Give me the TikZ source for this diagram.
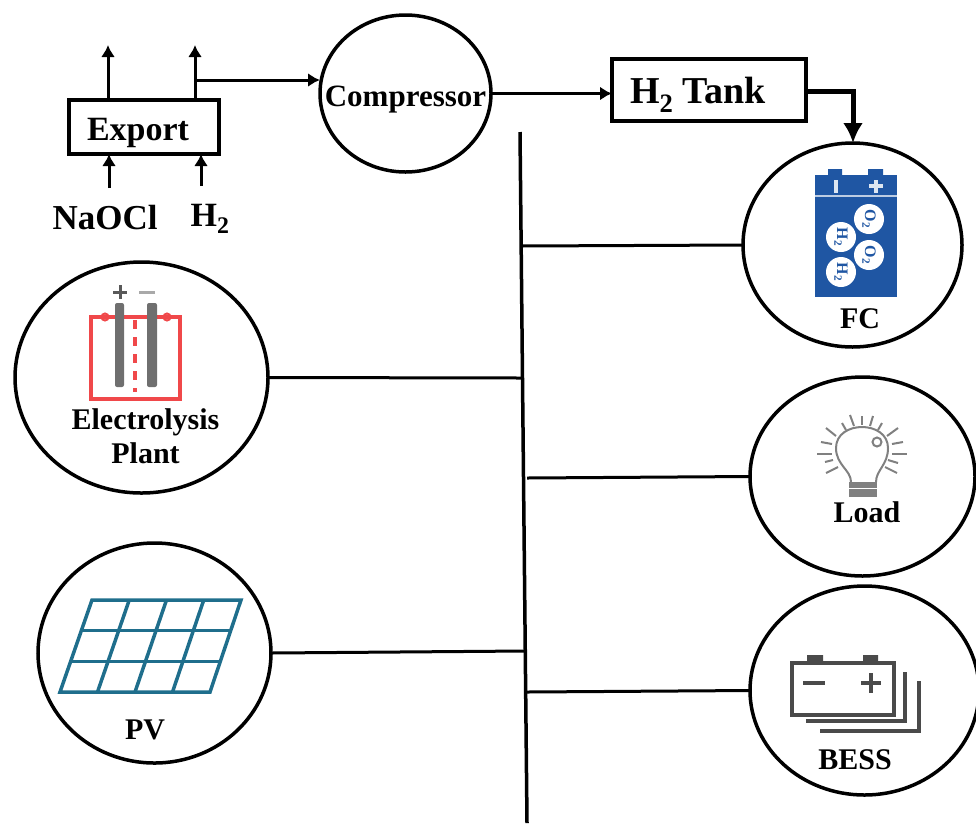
\documentclass[tikz,border=0pt]{standalone}
\usepackage{fontspec}
\setmainfont{Liberation Serif}
\usepackage{tikz}
\usetikzlibrary{shapes,arrows.meta,calc}
\definecolor{fcblue}{HTML}{1F56A3}
\definecolor{cellred}{HTML}{F0484A}
\definecolor{rodgray}{HTML}{6F6F6F}
\definecolor{pvblue}{HTML}{1F6E8C}
\definecolor{bessgray}{HTML}{4A4A4A}
\tikzset{
	unit/.style={draw,ellipse,line width=3.5pt,inner sep=0pt,outer sep=0pt},
	boxunit/.style={draw,rectangle,line width=3.5pt,inner sep=0pt,outer sep=0pt},
	lbl/.style={font=\fontsize{30}{34}\selectfont\bfseries,inner sep=0pt},
	wire/.style={line width=3pt},
	flow/.style={-{Latex[length=12pt,width=14pt]},line width=3pt}
}
\begin{document}
\begin{tikzpicture}[x=1pt,y=-1pt]
		\useasboundingbox (0,0) rectangle (976,823);
		
		% units
		\node[unit,minimum width=171pt,minimum height=157pt] (compressor) at (405.5,93.5) {};
		\node[unit,minimum width=219pt,minimum height=204pt] (fc) at (852.5,245) {};
		\node[unit,minimum width=253pt,minimum height=231pt] (plant) at (141.5,377.5) {};
		\node[unit,minimum width=225pt,minimum height=199pt] (load) at (862.5,476.5) {};
		\node[unit,minimum width=233pt,minimum height=220pt] (pv) at (154.5,653) {};
		\node[unit,minimum width=229pt,minimum height=209pt] (bess) at (864.5,690.5) {};
		
		% boxes
		\node[boxunit,minimum width=150pt,minimum height=54pt] (export) at (144,127) {};
		\node[lbl,font=\fontsize{34}{36}\selectfont\bfseries] (exportlbl) at (138,133) {Export};
		\node[boxunit,minimum width=194pt,minimum height=62pt] (tank) at (709,90) {};
		\node[lbl,font=\fontsize{38}{40}\selectfont\bfseries] (tanklbl) at (698,95) {H\textsubscript{2} Tank};
		
		% labels
		\node[lbl,font=\fontsize{31}{34}\selectfont\bfseries] (compressorlbl) at (405.5,100) {Compressor};
		\node[lbl,font=\fontsize{35}{36}\selectfont\bfseries] (naocl) at (105,218) {NaOCl};
		\node[lbl,font=\fontsize{34}{36}\selectfont\bfseries] (htwo) at (210,219) {H\textsubscript{2}};
		\node[lbl] (fclbl) at (860,319) {FC};
		\node[lbl,align=center] (plantlbl) at (145.5,436) {Electrolysis\\Plant};
		\node[lbl] (loadlbl) at (867,512) {Load};
		\node[lbl] (pvlbl) at (145,730) {PV};
		\node[lbl] (besslbl) at (855,760) {BESS};
		
		% free ends
		\coordinate (bustop) at (520,132);
		\coordinate (busbot) at (527,823);
		\coordinate (busfc) at (521,246);
		\coordinate (busplant) at (522,378);
		\coordinate (busload) at (527,478);
		\coordinate (buspv) at (525,651);
		\coordinate (busbess) at (527,692);
		\coordinate (exportoa) at (108,45);
		\coordinate (exportob) at (195,45);
		\coordinate (branch) at (195,80);
		\coordinate (naocltop) at (109,188);
		\coordinate (htwotop) at (201,186);
		\coordinate (tankbend) at (853,91);
		
		% bus
		\draw[wire,line width=3.5pt] (bustop) -- (busbot);
		\draw[wire] (busfc) -- (fc.west);
		\draw[wire] (plant.east) -- (busplant);
		\draw[wire] (busload) -- (load.west);
		\draw[wire] (pv.east) -- (buspv);
		\draw[wire] (busbess) -- (bess.west);
		
		% flows
		\draw[flow] (export.north -| exportoa) -- (exportoa);
		\draw[flow] (export.north -| exportob) -- (exportob);
		\draw[flow] (branch) -- (compressor.west |- branch);
		\draw[flow] (naocltop) -- (naocltop |- export.south);
		\draw[flow] (htwotop) -- (htwotop |- export.south);
		\draw[flow] (compressor.east) -- (tank.west |- compressor.east);
		\draw[-{Latex[length=20pt,width=20pt]},line width=5pt] (tank.east |- tankbend) -- (tankbend) -- (fc.north -| tankbend);
		
		% FC icon
		\fill[fcblue] (815,175) rectangle (897,297);
		\fill[fcblue] (828,169) rectangle (842,175) (868,169) rectangle (883,175);
		\draw[white!70!fcblue,line width=1.5pt] (815,196) -- (897,196);
		\draw[white!85!fcblue,line width=3.5pt] (836,180) -- (836,193) (869,186) -- (883,186) (876,180) -- (876,193);
		\foreach \cx/\cy/\gas in {841/237/H,841/272/H,869/219/O,869/255/O}{
			\fill[white] (\cx,\cy) circle (15pt);
			\node[rotate=-90,text=fcblue,font=\fontsize{16}{16}\selectfont\bfseries,inner sep=0pt] (gas\cx\cy) at (\cx,\cy) {\gas\textsubscript{2}};
		}
		
		% electrolysis icon
		\draw[cellred,line width=4pt] (91,317) rectangle (180,399);
		\draw[cellred,line width=2pt] (105,317) circle (3.5pt) (167,317) circle (3.5pt);
		\draw[cellred,line width=4pt,dash pattern=on 9pt off 8pt] (135,320) -- (135,392);
		\fill[rodgray,rounded corners=2pt] (115,303) rectangle (124,387);
		\fill[rodgray,rounded corners=2pt] (147,303) rectangle (157,387);
		\draw[rodgray!80!black,line width=3pt] (113,292) -- (127,292) (120,285) -- (120,299);
		\draw[rodgray!60,line width=3pt] (139,292) -- (155,292);
		
		% load icon
		\begin{scope}[draw=gray,line width=2pt]
		\draw (851,482) .. controls (851,470) and (836,465) .. (836,448) .. controls (836,420) and (888,420) .. (888,448) .. controls (888,465) and (876,470) .. (876,482);
		\fill[gray] (849,482) rectangle (877,497);
		\draw[white,line width=1pt] (849,488) -- (877,488);
		\draw (877,442) circle (4.5pt);
		\foreach \xa/\ya/\xb/\yb in {817/454/832/454,892/454/907/454,821/442/832/444,892/444/903/442,826/428/836/436,887/436/898/428,842/423/846/430,878/430/882/423,850/415/854/426,870/426/873/416,862/416/862/425,825/462/833/460,888/460/898/463,826/473/838/467,885/467/897/473}{
			\draw (\xa,\ya) -- (\xb,\yb);
		}
		\end{scope}
		
		% PV icon
		\begin{scope}[pvblue,line width=3.5pt]
		\draw (92,600) -- (241,600) -- (210,692) -- (60,692) -- cycle;
		\foreach \t in {0.25,0.5,0.75}{
			\draw ($(92,600)!\t!(241,600)$) -- ($(60,692)!\t!(210,692)$);
		}
		\foreach \t in {0.333,0.667}{
			\draw ($(92,600)!\t!(60,692)$) -- ($(241,600)!\t!(210,692)$);
		}
		\end{scope}
		
		% BESS icon
		\begin{scope}[bessgray,line width=4pt]
		\draw (792,663) rectangle (894,715);
		\fill (807,655) rectangle (823,663) (863,655) rectangle (878,663);
		\draw (803,683) -- (825,683) (861,683) -- (881,683) (871,673) -- (871,693);
		\draw (905,672) -- (905,721) -- (806,721);
		\draw (919,681) -- (919,731) -- (820,731);
		\end{scope}
		
\end{tikzpicture}
\end{document}
